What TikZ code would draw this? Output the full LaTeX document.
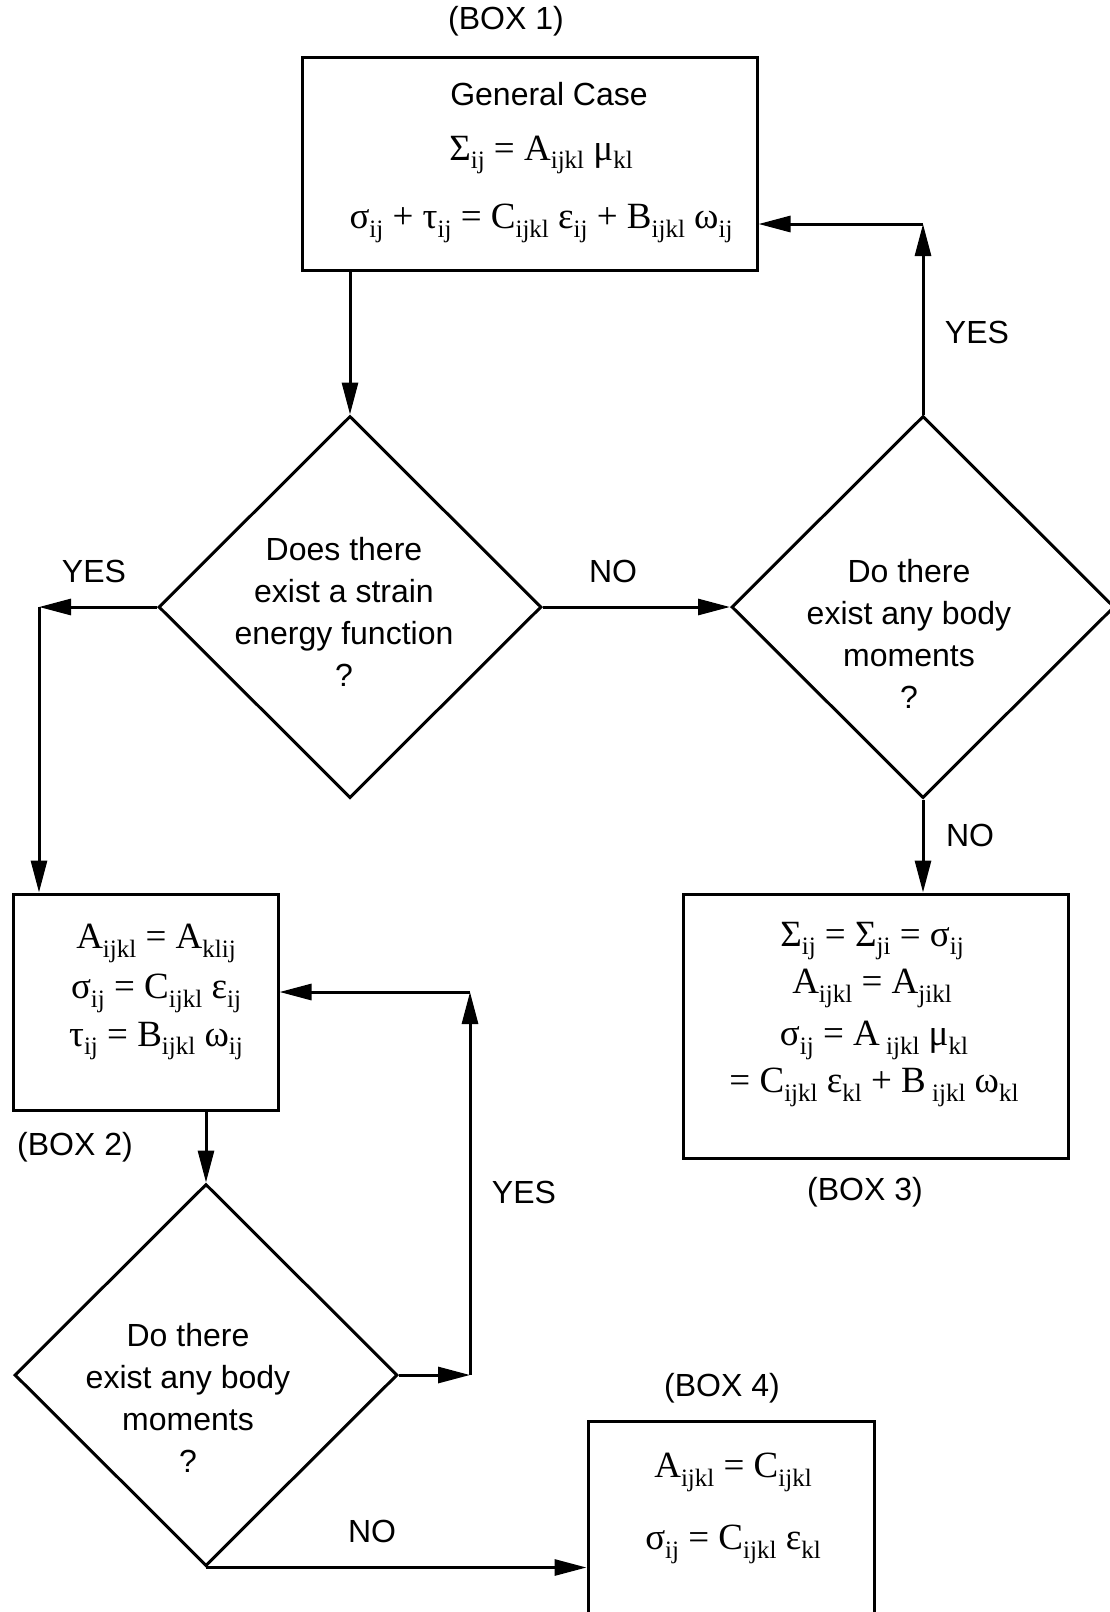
\documentclass[tikz,border=0pt]{standalone}
\usepackage{fontspec}
\setmainfont{Liberation Sans}
\newfontfamily\tms{Liberation Serif}
\usetikzlibrary{shapes.geometric,arrows.meta}
\newcommand\lo[1]{\raisebox{-0.24em}{\fontsize{25}{25}\selectfont #1}}
\begin{document}
\begin{tikzpicture}[x=1pt,y=-1pt,
  box/.style={draw,line width=3pt,rectangle,inner sep=0pt},
  dia/.style={draw,line width=3pt,diamond,inner sep=0pt,aspect=1,minimum width=383pt,minimum height=382pt},
  arr/.style={line width=3pt,-{Triangle[length=32pt,width=16pt]}},
  lab/.style={inner sep=0pt,font=\fontsize{32}{42}\selectfont,align=center},
  eq/.style={inner sep=0pt,font=\tms\fontsize{37}{42}\selectfont},
]
\useasboundingbox (0,0) rectangle (1110,1612);
\fill[white] (0,0) rectangle (1110,1612);
\clip (0,0) rectangle (1110,1612);

% boxes
\node[box,minimum width=455pt,minimum height=213pt] (b1) at (529.5,163.5) {};
\node[box,minimum width=265pt,minimum height=216pt] (b2) at (145.5,1002) {};
\node[box,minimum width=385pt,minimum height=264pt] (b3) at (875.5,1026) {};
\node[box,minimum width=286pt,minimum height=240pt] (b4) at (731,1541) {};

% diamonds
\node[dia] (d1) at (350,607) {};
\node[dia] (d2) at (923,607) {};
\node[dia] (d3) at (206,1375) {};

% box texts
\node[lab] (t1a) at (549,94) {General Case};
\node[eq] (t1b) at (541,155) {Σ\lo{ij} = A\lo{ijkl} μ\lo{kl}};
\node[eq] (t1c) at (541,223) {σ\lo{ij} + τ\lo{ij} = C\lo{ijkl} ε\lo{ij} + B\lo{ijkl} ω\lo{ij}};

\node[eq] (t2a) at (156,943) {A\lo{ijkl} = A\lo{klij}};
\node[eq] (t2b) at (156,993) {σ\lo{ij} = C\lo{ijkl} ε\lo{ij}};
\node[eq] (t2c) at (156,1041) {τ\lo{ij} = B\lo{ijkl} ω\lo{ij}};

\node[eq] (t3a) at (872,941) {Σ\lo{ij} = Σ\lo{ji} = σ\lo{ij}};
\node[eq] (t3b) at (872,988) {A\lo{ijkl} = A\lo{jikl}};
\node[eq] (t3c) at (874,1040) {σ\lo{ij} = A\lo{ ijkl} μ\lo{kl}};
\node[eq] (t3d) at (874,1087) {= C\lo{ijkl} ε\lo{kl} + B\lo{ ijkl} ω\lo{kl}};

\node[eq] (t4a) at (733,1472) {A\lo{ijkl} = C\lo{ijkl}};
\node[eq] (t4b) at (733,1544) {σ\lo{ij} = C\lo{ijkl} ε\lo{kl}};

% diamond texts
\node[lab] (q1) at (344,612) {Does there\\exist a strain\\energy function\\?};
\node[lab] (q2) at (909,634) {Do there\\exist any body\\moments\\?};
\node[lab] (q3) at (188,1398) {Do there\\exist any body\\moments\\?};

% labels
\node[lab] (L1) at (506,21) {(BOX 1)};
\node[lab] (L2) at (75,1147) {(BOX 2)};
\node[lab] (L3) at (865,1192) {(BOX 3)};
\node[lab] (L4) at (722,1388) {(BOX 4)};
\node[lab] (y1) at (977,332) {YES};
\node[lab] (y2) at (94,571) {YES};
\node[lab] (y3) at (524,1192) {YES};
\node[lab] (n1) at (613,571) {NO};
\node[lab] (n2) at (970,835) {NO};
\node[lab] (n3) at (372,1531) {NO};

% coordinates
\coordinate (c1) at (39,607);
\coordinate (c2) at (923,224);
\coordinate (c3) at (470,1375);
\coordinate (c4) at (470,992);

% connectors
\draw[arr] (d1.north |- b1.south) -- (d1.north);
\draw[arr] (d1.east) -- (d2.west);
\draw[arr] (d1.west) -- (c1);
\draw[arr] (c1) -- (c1 |- b2.north);
\draw[arr] (d2.north) -- (c2);
\draw[arr] (c2) -- (c2 -| b1.east);
\draw[arr] (d2.south) -- (d2.south |- b3.north);
\draw[arr] (d3.north |- b2.south) -- (d3.north);
\draw[arr] (d3.east) -- (c3);
\draw[arr] (c3) -- (c4);
\draw[arr] (c4) -- (c4 -| b2.east);
\draw[arr] (d3.south) -- (d3.south -| b4.west);
\end{tikzpicture}
\end{document}
